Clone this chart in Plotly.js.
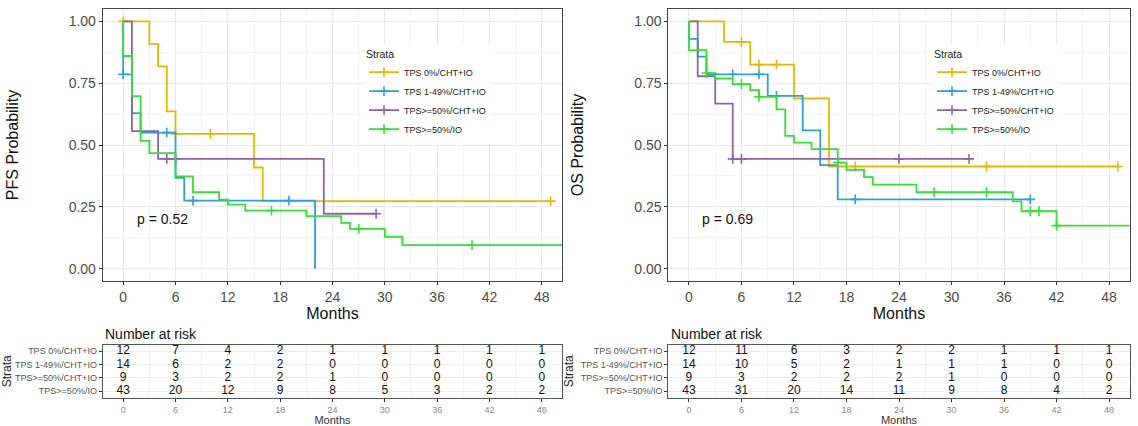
<!DOCTYPE html>
<html>
<head>
<meta charset="utf-8">
<script src="https://cdn.plot.ly/plotly-3.0.1.min.js"></script>
<style>html,body{margin:0;padding:0;background:#fff;}#chart{width:1138px;height:426px;}</style>
</head>
<body>
<div id="chart"></div>
<script>
// ---------- data ----------
const strata = ['TPS 0%/CHT+IO', 'TPS 1-49%/CHT+IO', 'TPS>=50%/CHT+IO', 'TPS>=50%/IO'];
const colors = ['#E7B800', '#2E9FDF', '#8A66A8', '#33E033'];
const riskMonths = [0, 6, 12, 18, 24, 30, 36, 42, 48];

// PFS step curves (time of change, survival after change)
const pfsTime0 = [0, 3, 4, 5, 6, 15, 16, 49];
const pfsSurv0 = [1, 0.909, 0.818, 0.636, 0.545, 0.409, 0.273, 0.273];
const pfsCens0 = [0, 6, 10, 49];

const pfsTime1 = [0, 0, 1, 2, 6, 7, 22];
const pfsSurv1 = [1, 0.786, 0.629, 0.55, 0.367, 0.275, 0];
const pfsCens1 = [0, 5, 8, 19];

const pfsTime2 = [0, 1, 4, 23, 29];
const pfsSurv2 = [1, 0.556, 0.444, 0.222, 0.222];
const pfsCens2 = [5, 6, 29];

const pfsTime3 = [0, 0, 1, 2, 3, 6, 8, 11, 12, 14, 21, 25, 26, 30, 32, 51];
const pfsSurv3 = [1, 0.86, 0.698, 0.517, 0.467, 0.373, 0.309, 0.279, 0.259, 0.235, 0.212, 0.185, 0.161, 0.129, 0.095, 0.095];
const pfsCens3 = [17, 27, 40];

// OS step curves
const osTime0 = [0, 4, 7, 12, 16, 49];
const osSurv0 = [1, 0.917, 0.825, 0.688, 0.413, 0.413];
const osCens0 = [6, 8, 10, 19, 34, 49];

const osTime1 = [0, 0, 1, 2, 9, 13, 15, 17, 39];
const osSurv1 = [1, 0.929, 0.857, 0.786, 0.699, 0.559, 0.419, 0.28, 0.28];
const osCens1 = [5, 8, 10, 19, 39];

const osTime2 = [0, 1, 3, 5, 32];
const osSurv2 = [1, 0.778, 0.667, 0.444, 0.444];
const osCens2 = [5, 6, 24, 32];

const osTime3 = [0, 0, 2, 3, 5, 7, 8, 10, 11, 12, 14, 17, 18, 20, 21, 26, 37, 38, 42, 51];
const osSurv3 = [1, 0.884, 0.791, 0.769, 0.746, 0.722, 0.695, 0.644, 0.537, 0.51, 0.483, 0.429, 0.40, 0.37, 0.34, 0.309, 0.272, 0.232, 0.174, 0.174];
const osCens3 = [2, 6, 8, 17, 28, 34, 39, 40, 42];

// Number at risk
const pfsRisk0 = [12, 7, 4, 2, 1, 1, 1, 1, 1];
const pfsRisk1 = [14, 6, 2, 2, 0, 0, 0, 0, 0];
const pfsRisk2 = [9, 3, 2, 2, 1, 0, 0, 0, 0];
const pfsRisk3 = [43, 20, 12, 9, 8, 5, 3, 2, 2];

const osRisk0 = [12, 11, 6, 3, 2, 2, 1, 1, 1];
const osRisk1 = [14, 10, 5, 2, 1, 1, 1, 0, 0];
const osRisk2 = [9, 3, 2, 2, 2, 1, 0, 0, 0];
const osRisk3 = [43, 31, 20, 14, 11, 9, 8, 4, 2];

const pLabels = ['p = 0.52', 'p = 0.69'];

// ---------- build ----------
const FONT = 'Liberation Sans, Arial, sans-serif';
function survAt(times, surv, t) {
  let v = surv[0];
  for (let i = 0; i < times.length; i++) { if (times[i] <= t) v = surv[i]; }
  return v;
}

const pfs = [[pfsTime0, pfsSurv0, pfsCens0], [pfsTime1, pfsSurv1, pfsCens1], [pfsTime2, pfsSurv2, pfsCens2], [pfsTime3, pfsSurv3, pfsCens3]];
const os = [[osTime0, osSurv0, osCens0], [osTime1, osSurv1, osCens1], [osTime2, osSurv2, osCens2], [osTime3, osSurv3, osCens3]];
const pfsRisk = [pfsRisk0, pfsRisk1, pfsRisk2, pfsRisk3];
const osRisk = [osRisk0, osRisk1, osRisk2, osRisk3];

const traces = [];
function addCurves(set, xa, ya, legendName) {
  set.forEach((c, i) => {
    traces.push({
      x: c[0], y: c[1], xaxis: xa, yaxis: ya, type: 'scatter', mode: 'lines',
      line: {shape: 'hv', color: colors[i], width: 1.8},
      showlegend: false, hoverinfo: 'skip'
    });
    traces.push({
      x: c[2], y: c[2].map(t => survAt(c[0], c[1], t)), xaxis: xa, yaxis: ya,
      type: 'scatter', mode: 'markers',
      marker: {symbol: 'cross-thin', size: 7, color: colors[i], line: {width: 1.6, color: colors[i]}},
      showlegend: false, hoverinfo: 'skip'
    });
  });
  strata.forEach((s, i) => {
    traces.push({
      x: [null], y: [null], xaxis: xa, yaxis: ya, type: 'scatter', mode: 'lines+markers',
      name: s, legend: legendName,
      line: {color: colors[i], width: 1.8},
      marker: {symbol: 'cross-thin', size: 7, color: colors[i], line: {width: 1.6, color: colors[i]}}
    });
  });
}
addCurves(pfs, 'x', 'y', 'legend');
addCurves(os, 'x2', 'y2', 'legend2');

function addRisk(risk, xa, ya) {
  risk.forEach((r, i) => {
    traces.push({
      x: riskMonths, y: riskMonths.map(() => 4 - i), text: r.map(String),
      xaxis: xa, yaxis: ya, type: 'scatter', mode: 'text',
      textposition: 'middle center',
      textfont: {size: 12, color: '#111', family: FONT},
      showlegend: false, hoverinfo: 'skip', cliponaxis: false
    });
  });
}
addRisk(pfsRisk, 'x3', 'y3');
addRisk(osRisk, 'x4', 'y4');

const W = 1138, H = 426;
const leftDom = [102.7 / W, 562.3 / W];
const rightDom = [668.4 / W, 1129.6 / W];
const kmDom = [1 - 281 / H, 1 - 9 / H];
const tabDom = [1 - 398 / H, 1 - 344.5 / H];

function kmX(dom) {
  return {
    domain: dom, range: [-2.35, 50.35], tickmode: 'linear', tick0: 0, dtick: 6,
    ticks: 'outside', ticklen: 3, tickcolor: '#333', tickwidth: 1,
    tickfont: {size: 14, color: '#4d4d4d', family: FONT},
    showline: true, mirror: true, linecolor: '#444', linewidth: 1,
    showgrid: true, gridcolor: '#e9e9e9', gridwidth: 1, zeroline: false,
    minor: {dtick: 3, tick0: 0, showgrid: true, gridcolor: '#f5f5f5', gridwidth: 1},
    title: {text: 'Months', font: {size: 16, color: '#111', family: FONT}, standoff: 1}
  };
}
function kmY(dom, anchor, label) {
  return {
    domain: dom, anchor: anchor, range: [-0.05, 1.05], tickmode: 'linear', tick0: 0, dtick: 0.25,
    tickformat: '.2f', ticks: 'outside', ticklen: 3, tickcolor: '#333',
    tickfont: {size: 14, color: '#4d4d4d', family: FONT},
    showline: true, mirror: true, linecolor: '#444', linewidth: 1,
    showgrid: true, gridcolor: '#e9e9e9', zeroline: false,
    minor: {dtick: 0.125, tick0: 0, showgrid: true, gridcolor: '#f5f5f5'},
    title: {text: label, font: {size: 16, color: '#111', family: FONT}, standoff: 46}
  };
}
function tabX(dom) {
  return {
    domain: dom, range: [-2.35, 50.35], tickmode: 'linear', tick0: 0, dtick: 6,
    ticks: 'outside', ticklen: 3, tickcolor: '#333',
    tickfont: {size: 9, color: '#8a8a8a', family: FONT},
    showline: true, mirror: true, linecolor: '#555', linewidth: 1,
    showgrid: true, gridcolor: '#ececec', zeroline: false,
    minor: {dtick: 3, tick0: 0, showgrid: true, gridcolor: '#f2f2f2'},
    title: {text: 'Months', font: {size: 11, color: '#333', family: FONT}, standoff: 0}
  };
}
function tabY(dom, anchor) {
  return {
    domain: dom, anchor: anchor, range: [0.5, 4.5],
    tickmode: 'array', tickvals: [4, 3, 2, 1], ticktext: strata,
    ticks: 'outside', ticklen: 3, tickcolor: '#333',
    tickfont: {size: 9, color: '#555', family: FONT},
    showline: true, mirror: true, linecolor: '#555', linewidth: 1,
    showgrid: true, gridcolor: '#ececec', zeroline: false,
    title: {text: 'Strata', font: {size: 12, color: '#222', family: FONT}, standoff: 4}
  };
}

const layout = {
  width: W, height: H,
  margin: {l: 0, r: 0, t: 0, b: 0},
  paper_bgcolor: '#fff', plot_bgcolor: '#fff',
  font: {family: FONT},
  xaxis: Object.assign(kmX(leftDom), {anchor: 'y'}),
  yaxis: kmY(kmDom, 'x', 'PFS Probability'),
  xaxis2: Object.assign(kmX(rightDom), {anchor: 'y2'}),
  yaxis2: kmY(kmDom, 'x2', 'OS Probability'),
  xaxis3: Object.assign(tabX(leftDom), {anchor: 'y3'}),
  yaxis3: tabY(tabDom, 'x3'),
  xaxis4: Object.assign(tabX(rightDom), {anchor: 'y4'}),
  yaxis4: tabY(tabDom, 'x4'),
  legend: {
    x: 364 / W, y: 1 - 44 / H, xanchor: 'left', yanchor: 'top',
    bgcolor: '#fff', borderwidth: 0,
    font: {size: 9, color: '#222', family: FONT},
    title: {text: 'Strata', font: {size: 10.5, color: '#222', family: FONT}},
    itemwidth: 30, tracegroupgap: 0
  },
  legend2: {
    x: 932 / W, y: 1 - 44 / H, xanchor: 'left', yanchor: 'top',
    bgcolor: '#fff', borderwidth: 0,
    font: {size: 9, color: '#222', family: FONT},
    title: {text: 'Strata', font: {size: 10.5, color: '#222', family: FONT}},
    itemwidth: 30, tracegroupgap: 0
  },
  annotations: [
    {xref: 'x', yref: 'y', x: 1.3, y: 0.2, xanchor: 'left', yanchor: 'middle', showarrow: false,
     text: pLabels[0], font: {size: 14, color: '#111', family: FONT}},
    {xref: 'x2', yref: 'y2', x: 1.3, y: 0.2, xanchor: 'left', yanchor: 'middle', showarrow: false,
     text: pLabels[1], font: {size: 14, color: '#111', family: FONT}},
    {xref: 'paper', yref: 'paper', x: 103 / W, y: 1 - 334 / H, xanchor: 'left', yanchor: 'middle', showarrow: false,
     text: 'Number at risk', font: {size: 14, color: '#111', family: FONT}},
    {xref: 'paper', yref: 'paper', x: 669 / W, y: 1 - 334 / H, xanchor: 'left', yanchor: 'middle', showarrow: false,
     text: 'Number at risk', font: {size: 14, color: '#111', family: FONT}}
  ]
};

Plotly.newPlot('chart', traces, layout, {displayModeBar: false, responsive: false});
</script>
</body>
</html>
